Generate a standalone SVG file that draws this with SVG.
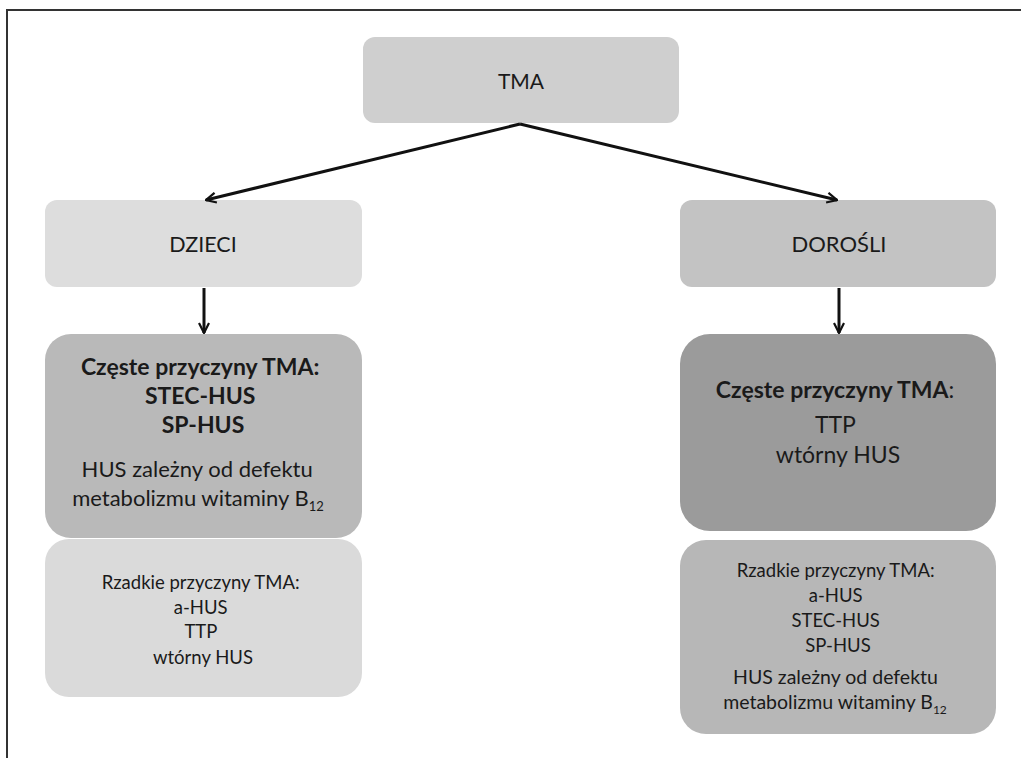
<svg xmlns="http://www.w3.org/2000/svg" width="1021" height="758" viewBox="0 0 1021 758">
  <defs>
    <marker id="arrow" viewBox="0 0 12 12" refX="11" refY="6" markerWidth="12" markerHeight="12" markerUnits="userSpaceOnUse" orient="auto">
      <path d="M1,1 L11,6 L1,11" fill="none" stroke="#111" stroke-width="2.2" stroke-linejoin="miter"/>
    </marker>
    <style>
      .t { font-family: Lato, "Open Sans", "Liberation Sans", sans-serif; fill: #1a1a1a; text-anchor: middle; }
      .b { font-weight: bold; }
      .conn { stroke: #111; stroke-width: 3; fill: none; }
      .frame { stroke: #333; stroke-width: 2; fill: none; }
    </style>
  </defs>
  <rect x="0" y="0" width="1021" height="758" fill="#ffffff"/>
  <!-- page frame -->
  <path class="frame" d="M7,758 L7,10 L1021,10"/>

  <g id="tma">
    <rect x="363" y="37" width="316" height="86" rx="12" fill="#cfcfcf"/>
    <text class="t" x="521" y="89" font-size="21">TMA</text>
  </g>

  <g id="dzieci">
    <rect x="45" y="200" width="317" height="87" rx="12" fill="#dddddd"/>
    <text class="t" x="203" y="252" font-size="21.5">DZIECI</text>
  </g>

  <g id="dorosli">
    <rect x="680" y="200" width="316" height="87" rx="12" fill="#c3c3c3"/>
    <text class="t" x="839" y="252" font-size="22">DOROŚLI</text>
  </g>

  <g id="dzieci-czeste">
    <rect x="45" y="334" width="317" height="204" rx="26" fill="#b9b9b9"/>
    <text class="t b" font-size="23">
      <tspan x="203" y="375">Częste przyczyny TMA:</tspan>
      <tspan x="203" y="404">STEC-HUS</tspan>
      <tspan x="203" y="433">SP-HUS</tspan>
    </text>
    <text class="t" font-size="22">
      <tspan x="200" y="477">HUS zależny od defektu</tspan>
      <tspan x="198" y="506">metabolizmu witaminy B<tspan font-size="13" dy="5">12</tspan></tspan>
    </text>
  </g>

  <g id="dzieci-rzadkie">
    <rect x="45" y="539" width="317" height="158" rx="24" fill="#dadada"/>
    <text class="t" font-size="18.5">
      <tspan x="203" y="589">Rzadkie przyczyny TMA:</tspan>
      <tspan x="203" y="614">a-HUS</tspan>
      <tspan x="203" y="638">TTP</tspan>
      <tspan x="203" y="664">wtórny HUS</tspan>
    </text>
  </g>

  <g id="dorosli-czeste">
    <rect x="680" y="334" width="316" height="197" rx="30" fill="#9b9b9b"/>
    <text class="t" font-size="23">
      <tspan x="838" y="398"><tspan class="b">Częste przyczyny TMA</tspan>:</tspan>
      <tspan x="838" y="433">TTP</tspan>
      <tspan x="838" y="463">wtórny HUS</tspan>
    </text>
  </g>

  <g id="dorosli-rzadkie">
    <rect x="680" y="540" width="316" height="194" rx="26" fill="#b7b7b7"/>
    <text class="t" font-size="18.5">
      <tspan x="838" y="577">Rzadkie przyczyny  TMA:</tspan>
      <tspan x="838" y="602">a-HUS</tspan>
      <tspan x="838" y="627">STEC-HUS</tspan>
      <tspan x="838" y="652">SP-HUS</tspan>
    </text>
    <text class="t" font-size="19.5">
      <tspan x="838" y="684">HUS zależny od defektu</tspan>
      <tspan x="835" y="709">metabolizmu witaminy B<tspan font-size="12" dy="5">12</tspan></tspan>
    </text>
  </g>

  <g id="connectors">
    <path class="conn" d="M520,124 L206,200" marker-end="url(#arrow)"/>
    <path class="conn" d="M520,124 L837,200" marker-end="url(#arrow)"/>
    <path class="conn" d="M204,288 L204,333" marker-end="url(#arrow)"/>
    <path class="conn" d="M839,288 L839,333" marker-end="url(#arrow)"/>
  </g>
</svg>
